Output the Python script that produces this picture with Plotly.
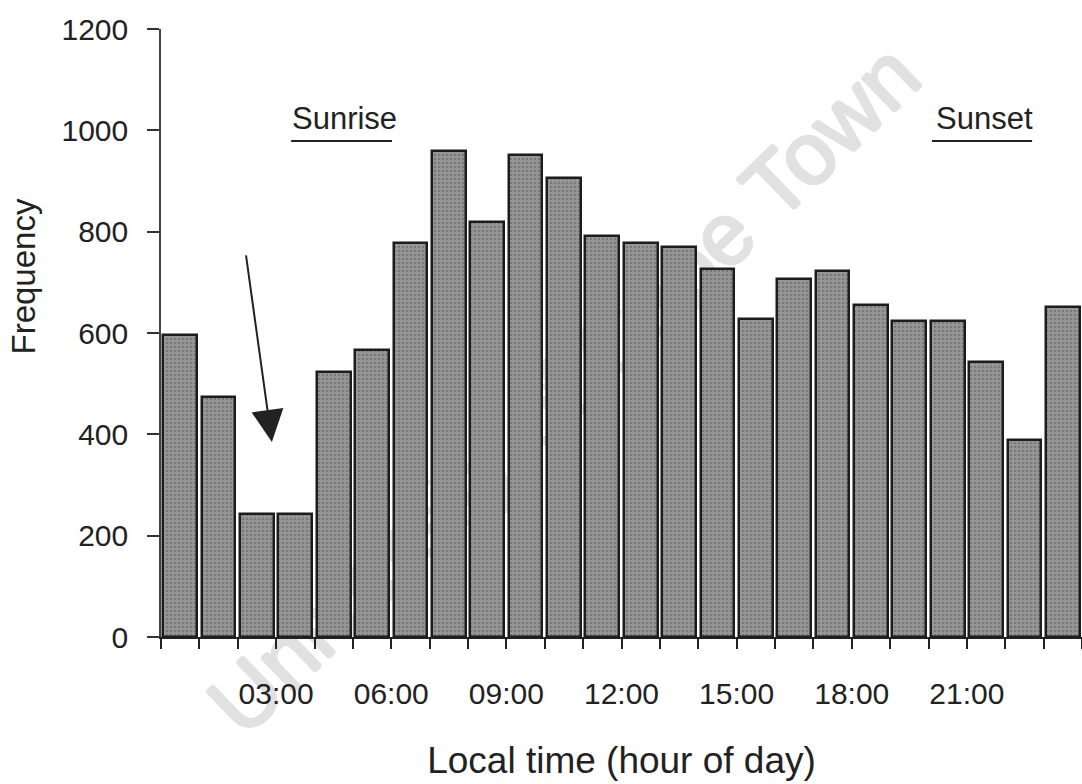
import plotly.graph_objects as go

# Hourly detection counts (bar for hour h spans h..h+1)
hours = list(range(24))
frequency = [596, 474, 243, 243, 523, 566, 778, 959, 819, 951, 906, 791,
             778, 770, 726, 628, 707, 722, 655, 624, 624, 543, 389, 651]

# Axis labelling
tick_hours = list(range(25))
labelled_hours = [3, 6, 9, 12, 15, 18, 21]
labelled_text = ["03:00", "06:00", "09:00", "12:00", "15:00", "18:00", "21:00"]
y_ticks = [0, 200, 400, 600, 800, 1000, 1200]

# Twilight markers: label, label centre hour, underline start/end hour
twilight = [("Sunrise", 4.78, 3.39, 6.02), ("Sunset", 21.45, 20.09, 22.70)]

FONT = "Liberation Sans, Arial, sans-serif"
INK = "#222222"
WM = "#e1e1e1"

tick_text = [labelled_text[labelled_hours.index(h)] if h in labelled_hours else ""
             for h in tick_hours]

fig = go.Figure()
fig.add_trace(go.Bar(
    x=hours,
    y=frequency,
    width=0.88,
    offset=0.06,
    marker=dict(
        color="#8f8f8f",
        line=dict(color="#1c1c1c", width=2.5),
        pattern=dict(shape=".", bgcolor="#979797", fgcolor="#5c5c5c",
                     size=4, solidity=0.35),
    ),
    showlegend=False,
    hoverinfo="skip",
))

shapes = []
# faint diagonal watermark behind the bars (a light shadow thickens the strokes)
wm_shadow = ", ".join(f"{dx}px {dy}px 0 {WM}" for dx, dy in
                      [(1.5, 0), (-1.5, 0), (0, 1.5), (0, -1.5)])
shapes.append(dict(
    type="rect", xref="paper", yref="paper", layer="below",
    x0=0.3810, x1=0.4810, y0=0.3677, y1=0.4677,
    line=dict(width=0), fillcolor="rgba(0,0,0,0)",
    label=dict(text="University of Cape Town", textangle=-44,
               textposition="middle center",
               font=dict(family=FONT, size=88, color=WM, shadow=wm_shadow)),
))
annotations = []
for name, xc, u0, u1 in twilight:
    annotations.append(dict(x=xc, y=1024, xref="x", yref="y", text=name,
                            showarrow=False, xanchor="center", yanchor="middle",
                            font=dict(family=FONT, size=31, color=INK)))
    shapes.append(dict(type="line", xref="x", yref="y", x0=u0, x1=u1,
                       y0=979, y1=979, line=dict(color=INK, width=2)))

# arrow pointing at the pre-dawn minimum
annotations.append(dict(x=2.89, y=385, xref="x", yref="y",
                        ax=2.21, ay=756, axref="x", ayref="y",
                        text="", showarrow=True, arrowhead=2, arrowsize=3.2,
                        arrowwidth=2, arrowcolor=INK, standoff=0))

# y-axis title, placed beside the upper half of the axis
annotations.append(dict(x=-0.1498, y=0.593, xref="paper", yref="paper",
                        text="Frequency", textangle=-90, showarrow=False,
                        xanchor="center", yanchor="middle",
                        font=dict(family=FONT, size=33, color=INK)))

fig.update_layout(
    width=1082, height=784,
    margin=dict(l=161, r=0, t=29, b=147, autoexpand=False),
    paper_bgcolor="white", plot_bgcolor="rgba(0,0,0,0)",
    font=dict(family=FONT, color=INK),
    bargap=0,
    shapes=shapes,
    annotations=annotations,
    xaxis=dict(
        range=[0, 24], tickvals=tick_hours, ticktext=tick_text,
        ticks="outside", ticklen=10, tickwidth=1.5, tickcolor="#222",
        showline=True, linecolor="#222", linewidth=2,
        showgrid=False, zeroline=False,
        tickfont=dict(size=30, color=INK), ticklabelstandoff=19,
        title=dict(text="Local time (hour of day)", standoff=38,
                   font=dict(size=37, color=INK)),
        fixedrange=True,
    ),
    yaxis=dict(
        range=[0, 1200], tickvals=y_ticks,
        ticks="outside", ticklen=12, tickwidth=1.5, tickcolor="#333",
        showline=True, linecolor="#444", linewidth=1.5,
        showgrid=False, zeroline=False,
        tickfont=dict(size=30, color=INK), ticklabelstandoff=13,
        fixedrange=True,
    ),
)

fig.write_html("out.html")
